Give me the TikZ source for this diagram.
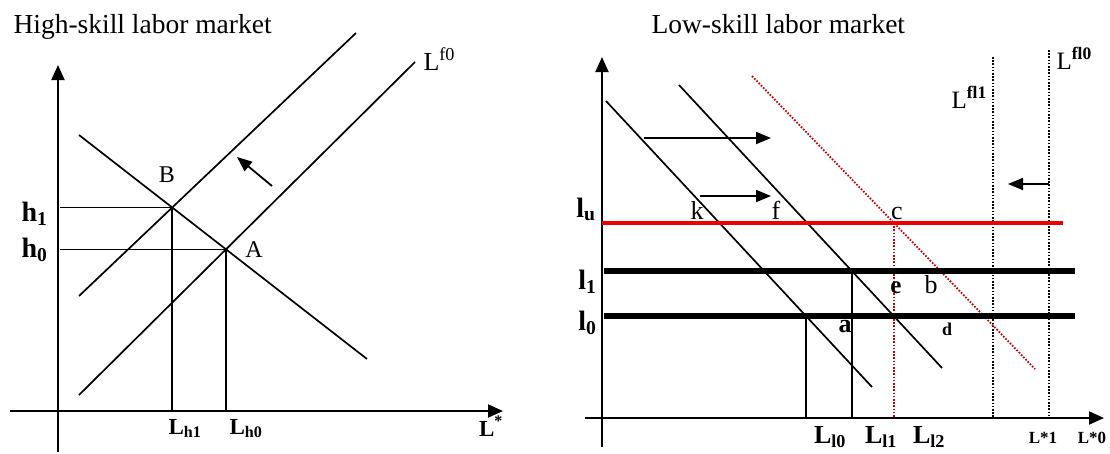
\documentclass[tikz,border=0pt]{standalone}
\usepackage{fontspec}
\setmainfont{Liberation Serif}
\usepackage{xcolor}
\usepackage{tikz}
\usetikzlibrary{arrows.meta}
\definecolor{floorred}{HTML}{EE0000}
\definecolor{dotred}{HTML}{CC0000}

\begin{document}
\begin{tikzpicture}[x=1pt, y=-1pt,
  axis/.style={line width=2pt, -{Triangle[length=15pt,width=13pt]}},
  curve/.style={line width=1.7pt},
  guide/.style={line width=1.6pt},
  shiftarrow/.style={line width=1.8pt, -{Triangle[length=15pt,width=12pt]}},
  floor/.style={line width=5.5pt},
  redfloor/.style={line width=4.5pt, color=floorred},
  reddots/.style={line width=1.8pt, color=dotred, dash pattern=on 1.6pt off 1.6pt},
  blackdots/.style={line width=1.8pt, dash pattern=on 1.6pt off 1.6pt},
  title/.style={font=\fontsize{27.5}{30}\selectfont, anchor=base west},
  point/.style={font=\fontsize{24}{26}\selectfont, anchor=base},
  letter/.style={font=\fontsize{26}{28}\selectfont, anchor=base},
  level/.style={font=\fontsize{28}{30}\selectfont\bfseries, anchor=base east},
  qty/.style={font=\fontsize{23}{25}\selectfont\bfseries, anchor=base},
  curvelabel/.style={font=\fontsize{26}{28}\selectfont, anchor=base west}
]
\useasboundingbox (0,0) rectangle (1110,453);

% High-skill market
\node[title] (titleh) at (10,33) {High-skill labor market};
\coordinate (oh) at (58,411);
\coordinate (yh) at (58,452);
\coordinate (ytiph) at (58,65);
\coordinate (xh) at (10,411);
\coordinate (xtiph) at (503,411);
\draw[axis] (yh) -- (ytiph);
\draw[axis] (xh) -- (xtiph);

\coordinate (dh1) at (79,135);
\coordinate (dh2) at (367,359);
\coordinate (sh1) at (79,395);
\coordinate (sh2) at (415,62);
\coordinate (sb1) at (79,296);
\coordinate (sb2) at (356,33);
\draw[curve] (dh1) -- (dh2);
\draw[curve] (sh1) -- (sh2);
\draw[curve] (sb1) -- (sb2);
\coordinate (B) at (intersection of dh1--dh2 and sb1--sb2);
\coordinate (A) at (intersection of dh1--dh2 and sh1--sh2);
\draw[guide] ([xshift=2pt]oh |- B) -- (B) -- (B |- oh);
\draw[guide] ([xshift=2pt]oh |- A) -- (A) -- (A |- oh);

\coordinate (shiftfrom) at (272,186);
\coordinate (shiftto) at (237,157);
\draw[shiftarrow] (shiftfrom) -- (shiftto);

\node[point] (labB) at (167,182) {B};
\node[point] (labA) at (254,257) {A};
\node[level] (h1) at (51,221) {h\textsubscript{1}};
\node[level] (h0) at (51,257) {h\textsubscript{0}};
\node[qty] (Lh1) at (185,434) {L\textsubscript{h1}};
\node[qty] (Lh0) at (246,434) {L\textsubscript{h0}};
\node[qty] (Lstar) at (491,436) {L\textsuperscript{*}};
\node[curvelabel] (Lf0) at (420,70) {L\textsuperscript{f0}};

% Low-skill market
\node[title] (titlel) at (648,33) {Low-skill labor market};
\coordinate (ol) at (602,418);
\coordinate (yl) at (602,447);
\coordinate (ytipl) at (602,57);
\coordinate (xl) at (585,418);
\coordinate (xtipl) at (1104,418);
\draw[axis] (yl) -- (ytipl);
\draw[axis] (xl) -- (xtipl);

\coordinate (dl1) at (606,101);
\coordinate (dl2) at (872,387);
\coordinate (dm1) at (679,85);
\coordinate (dm2) at (942,368);
\coordinate (dr1) at (752,76);
\coordinate (dr2) at (1035,369);
\coordinate (lu1) at (602,223);
\coordinate (lu2) at (1063,223);
\coordinate (la1) at (604,271);
\coordinate (la2) at (1075,271);
\coordinate (lb1) at (604,316);
\coordinate (lb2) at (1075,316);
\coordinate (lfa1) at (993,57);
\coordinate (lfa2) at (993,418);
\coordinate (lfb1) at (1049,50);
\coordinate (lfb2) at (1049,418);

\coordinate (pa) at (intersection of dl1--dl2 and lb1--lb2);
\coordinate (pe) at (intersection of dm1--dm2 and la1--la2);
\coordinate (pc) at (intersection of dr1--dr2 and lu1--lu2);

\draw[curve] (dl1) -- (dl2);
\draw[curve] (dm1) -- (dm2);
\draw[reddots] (dr1) -- (dr2);
\draw[reddots] (pc) -- (pc |- ol);
\draw[blackdots] (lfa1) -- (lfa2);
\draw[blackdots] (lfb1) -- (lfb2);
\draw[guide] (pa) -- (pa |- ol);
\draw[guide] (pe) -- (pe |- ol);
\draw[floor] (la1) -- (la2);
\draw[floor] (lb1) -- (lb2);
\draw[redfloor] (lu1) -- (lu2);

\coordinate (upfrom) at (644,138);
\coordinate (upto) at (771,138);
\coordinate (lowfrom) at (700,196);
\coordinate (lowto) at (771,196);
\coordinate (backfrom) at (1049,184);
\coordinate (backto) at (1008,184);
\draw[shiftarrow] (upfrom) -- (upto);
\draw[shiftarrow] (lowfrom) -- (lowto);
\draw[shiftarrow] (backfrom) -- (backto);

\node[curvelabel, font=\fontsize{25}{27}\selectfont] (Lfl1) at (948,108) {L\textsuperscript{\textbf{fl1}}};
\node[curvelabel, font=\fontsize{25}{27}\selectfont] (Lfl0) at (1053,69) {L\textsuperscript{\textbf{fl0}}};
\node[letter] (labk) at (697,219) {k};
\node[letter] (labf) at (776,219) {f};
\node[letter] (labc) at (897,219) {c};
\node[letter, font=\fontsize{25}{27}\selectfont\bfseries] (labe) at (896,293) {e};
\node[letter] (labb) at (931,293) {b};
\node[letter, font=\fontsize{26}{28}\selectfont\bfseries] (laba) at (845,332) {a};
\node[letter, font=\fontsize{18}{20}\selectfont\bfseries] (labd) at (947,335) {d};
\node[level] (lu) at (599,217) {l\textsubscript{u}};
\node[level] (l1) at (600,289) {l\textsubscript{1}};
\node[level] (l0) at (600,330) {l\textsubscript{0}};
\node[qty, font=\fontsize{26}{28}\selectfont\bfseries] (Ll0) at (830,443) {L\textsubscript{l0}};
\node[qty, font=\fontsize{26}{28}\selectfont\bfseries] (Ll1) at (881,443) {L\textsubscript{l1}};
\node[qty, font=\fontsize{26}{28}\selectfont\bfseries] (Ll2) at (929,443) {L\textsubscript{l2}};
\node[qty, font=\fontsize{17}{19}\selectfont\bfseries] (Ls1) at (1043,443) {L*1};
\node[qty, font=\fontsize{17}{19}\selectfont\bfseries] (Ls0) at (1092,443) {L*0};
\end{tikzpicture}
\end{document}
